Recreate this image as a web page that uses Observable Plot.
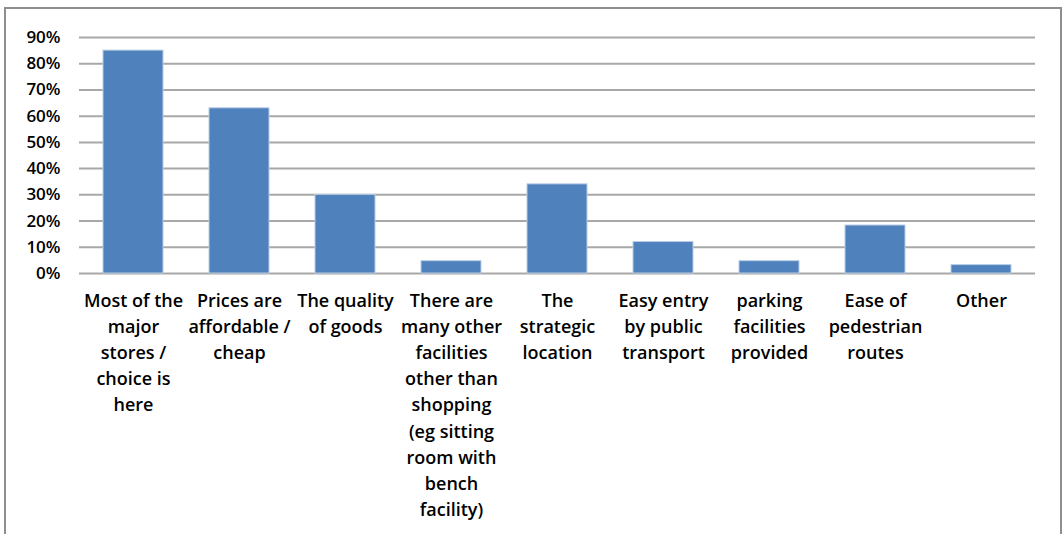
<!DOCTYPE html>
<html>
<head>
<meta charset="utf-8">
<script src="https://cdn.jsdelivr.net/npm/d3@7"></script>
<script src="https://cdn.jsdelivr.net/npm/@observablehq/plot@0.6"></script>
<style>
  html, body { margin: 0; padding: 0; background: #fff; }
  #wrap { position: relative; width: 1064px; height: 534px; overflow: hidden; }
  #frame { position: absolute; left: 4px; top: 7px; width: 1058px; height: 600px; border: 2px solid #8e8e8e; box-sizing: border-box; }
  #chart { position: absolute; left: 0; top: 0; }
</style>
</head>
<body>
<div id="wrap"><div id="frame"></div><div id="chart"></div></div>
<script>
const categories = [
  "Most of the\nmajor\nstores /\nchoice is\nhere",
  "Prices are\naffordable /\ncheap",
  "The quality\nof goods",
  "There are\nmany other\nfacilities\nother than\nshopping\n(eg sitting\nroom with\nbench\nfacility)",
  "The\nstrategic\nlocation",
  "Easy entry\nby public\ntransport",
  "parking\nfacilities\nprovided",
  "Ease of\npedestrian\nroutes",
  "Other"
];
const values = [0.85, 0.63, 0.30, 0.047, 0.34, 0.12, 0.047, 0.183, 0.032];
const yTicks = [0, 0.1, 0.2, 0.3, 0.4, 0.5, 0.6, 0.7, 0.8, 0.9];

const data = categories.map((c, i) => ({category: c, value: values[i]}));

const chart = Plot.plot({
  width: 1064,
  height: 534,
  marginLeft: 79,
  marginRight: 29,
  marginTop: 37,
  marginBottom: 261,
  style: {fontFamily: "'Open Sans', Lato, sans-serif", fontSize: "16px", color: "#000", background: "transparent"},
  x: {domain: categories, paddingInner: 0.435, paddingOuter: 0.2175, label: null},
  y: {domain: [0, 0.9], label: null},
  marks: [
    Plot.ruleY(yTicks, {stroke: "#a8a8a8", strokeWidth: 2, strokeOpacity: 1}),
    Plot.barY(data, {x: "category", y: "value", fill: "#4F81BD", stroke: "#b9cde5", strokeWidth: 1}),
    Plot.axisY({ticks: yTicks, tickFormat: d => Math.round(d * 100) + "%", tickSize: 0, tickPadding: 19, fontWeight: 600, fontSize: 17, fill: "#000"}),
    Plot.axisX({tickSize: 0, tickPadding: 15, fontWeight: 600, fontSize: 18, lineHeight: 1.45, fill: "#000"})
  ]
});
document.getElementById("chart").appendChild(chart);
</script>
</body>
</html>
